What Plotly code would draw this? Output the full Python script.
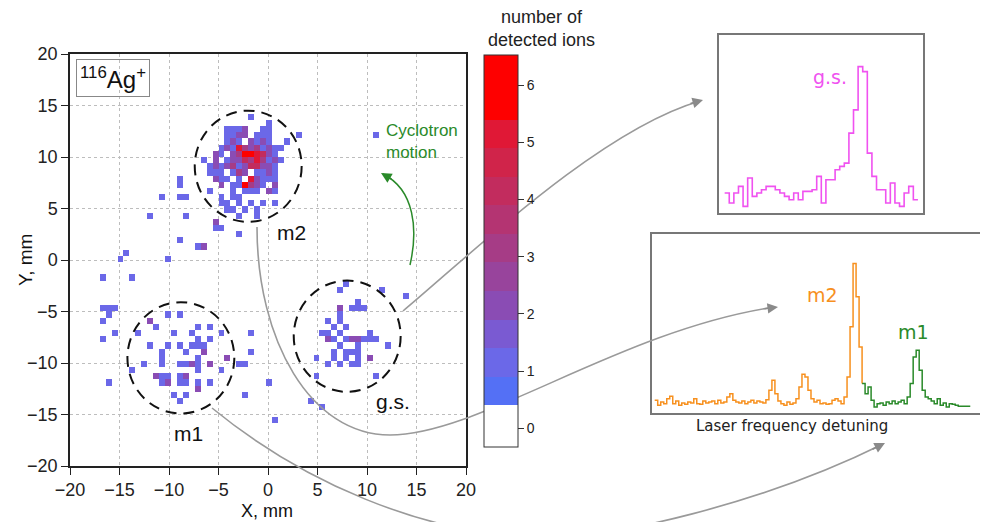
import numpy as np
import plotly.graph_objects as go

# ---------------- data: ion hits on the detector (cell centre x, y in mm, count) ----------------
BIN = 0.6
grid = np.round(-19.7 + BIN * np.arange(67), 2)

m2_x = [-1.7, 0.1,
        -4.1, -3.5, -2.9, -2.3, -0.5, 0.1,
        -4.1, -3.5, -2.9, -2.3, -1.1, -0.5, 0.1, 3.1,
        -4.1, -3.5, -2.9, -1.7, -1.1, -0.5, 0.1, 1.9,
        -4.7, -4.1, -3.5, -2.9, -2.3, -1.7, -1.1, -0.5, 0.1, 0.7, 1.3,
        -5.3, -4.7, -3.5, -2.9, -2.3, -1.7, -1.1, -0.5, 0.1, 0.7,
        -6.5, -5.3, -4.1, -3.5, -2.9, -2.3, -1.7, -1.1, -0.5, 0.1, 0.7, 1.3,
        -5.9, -5.3, -4.7, -4.1, -3.5, -2.9, -2.3, -1.7, -1.1, -0.5, 0.1, 0.7,
        -5.9, -5.3, -4.7, -3.5, -2.9, -2.3, -1.1, -0.5, 0.1, 0.7,
        -5.3, -4.7, -4.1, -2.9, -1.7, -1.1, -0.5, 0.1, 0.7,
        -4.7, -3.5, -2.9, -2.3, -1.7, -1.1, -0.5, 0.7,
        -5.9, -3.5, -2.3, -1.7, -1.1, 0.1, 0.7,
        -4.7, -3.5, -2.9,
        -4.7, -4.1, -2.9, -1.7, -0.5, 0.7,
        -4.1, -3.5, -2.3, -1.1,
        -2.9, -1.1]
m2_y = [13.9, 13.3,
        12.7, 12.7, 12.7, 12.7, 12.7, 12.7,
        12.1, 12.1, 12.1, 12.1, 12.1, 12.1, 12.1, 12.1,
        11.5, 11.5, 11.5, 11.5, 11.5, 11.5, 11.5, 11.5,
        10.9, 10.9, 10.9, 10.9, 10.9, 10.9, 10.9, 10.9, 10.9, 10.9, 10.9,
        10.3, 10.3, 10.3, 10.3, 10.3, 10.3, 10.3, 10.3, 10.3, 10.3,
        9.7, 9.7, 9.7, 9.7, 9.7, 9.7, 9.7, 9.7, 9.7, 9.7, 9.7, 9.7,
        9.1, 9.1, 9.1, 9.1, 9.1, 9.1, 9.1, 9.1, 9.1, 9.1, 9.1, 9.1,
        8.5, 8.5, 8.5, 8.5, 8.5, 8.5, 8.5, 8.5, 8.5, 8.5,
        7.9, 7.9, 7.9, 7.9, 7.9, 7.9, 7.9, 7.9, 7.9,
        7.3, 7.3, 7.3, 7.3, 7.3, 7.3, 7.3, 7.3,
        6.7, 6.7, 6.7, 6.7, 6.7, 6.7, 6.7,
        6.1, 6.1, 6.1,
        5.5, 5.5, 5.5, 5.5, 5.5, 5.5,
        4.9, 4.9, 4.9, 4.9,
        4.3, 4.3]
m2_n = [1, 1,
        1, 1, 1, 2, 1, 1,
        1, 1, 2, 2, 1, 1, 1, 1,
        1, 2, 1, 2, 1, 2, 1, 1,
        1, 2, 1, 5, 3, 2, 3, 1, 2, 1, 1,
        2, 1, 2, 3, 6, 6, 5, 4, 2, 1,
        1, 2, 1, 2, 2, 4, 3, 5, 3, 1, 2, 1,
        1, 2, 1, 2, 3, 1, 2, 4, 4, 2, 2, 1,
        1, 1, 1, 1, 3, 2, 1, 1, 2, 1,
        2, 1, 1, 1, 5, 2, 1, 1, 1,
        2, 1, 1, 6, 3, 2, 1, 2,
        1, 1, 1, 1, 1, 2, 1,
        1, 1, 1,
        1, 1, 1, 1, 1, 1,
        1, 1, 1, 1,
        1, 1]

m1_x = [-16.7, -16.1, -15.5,
        -16.1, -10.1, -8.9,
        -16.7, -11.9,
        -11.3, -7.1, -5.9,
        -15.5, -13.1, -9.5, -7.7, -4.7,
        -16.7, -7.1, -5.9,
        -11.9, -10.1, -8.9, -7.7, -7.1, -6.5,
        -10.7, -8.3, -6.5,
        -10.7, -7.1, -4.1,
        -12.5, -10.7, -8.9, -8.3, -7.7, -7.1, -5.9,
        -13.7, -7.1, -4.7,
        -11.3, -10.7, -10.1, -8.9, -8.3,
        -16.1, -10.7, -10.1, -8.9, -8.3, -7.1, -5.9,
        -7.1,
        -9.5, -8.3,
        -8.9]
m1_y = [-4.7, -4.7, -4.7,
        -5.3, -5.3, -5.3,
        -5.9, -5.9,
        -6.5, -6.5, -6.5,
        -7.1, -7.1, -7.1, -7.1, -7.1,
        -7.7, -7.7, -7.7,
        -8.3, -8.3, -8.3, -8.3, -8.3, -8.3,
        -8.9, -8.9, -8.9,
        -9.5, -9.5, -9.5,
        -10.1, -10.1, -10.1, -10.1, -10.1, -10.1, -10.1,
        -10.7, -10.7, -10.7,
        -11.3, -11.3, -11.3, -11.3, -11.3,
        -11.9, -11.9, -11.9, -11.9, -11.9, -11.9, -11.9,
        -12.5,
        -13.1, -13.1,
        -13.7]
m1_n = [1, 1, 1,
        1, 1, 1,
        1, 2,
        1, 1, 1,
        1, 1, 1, 1, 1,
        1, 1, 1,
        1, 1, 1, 1, 1, 1,
        1, 1, 2,
        1, 1, 2,
        1, 1, 1, 1, 2, 1, 2,
        1, 1, 1,
        2, 1, 1, 1, 2,
        1, 1, 2, 1, 1, 1, 1,
        2,
        1, 1,
        1]

gs_x = [7.9, 7.3, 11.5, 9.1,
        7.3, 8.5, 9.1, 9.7,
        7.3, 6.1, 7.3, 6.7, 7.9,
        5.5, 6.1, 7.3, 10.3,
        6.1, 6.7, 7.9, 8.5, 9.1, 9.7, 10.3, 10.9,
        7.3, 9.1, 12.1,
        6.7, 7.9, 8.5, 9.1,
        4.9, 6.7, 7.9, 9.1, 10.3,
        6.1, 7.3, 8.5, 9.1,
        4.9, 10.9]
gs_y = [-2.3, -2.9, -2.9, -4.1,
        -4.7, -4.7, -4.7, -4.7,
        -5.3, -5.9, -5.9, -6.5, -6.5,
        -7.1, -7.1, -7.1, -7.1,
        -7.7, -7.7, -7.7, -7.7, -7.7, -7.7, -7.7, -7.7,
        -8.3, -8.3, -8.3,
        -8.9, -8.9, -8.9, -8.9,
        -9.5, -9.5, -9.5, -9.5, -9.5,
        -10.1, -10.1, -10.1, -10.1,
        -11.3, -11.3]
gs_n = [1, 1, 1, 1,
        2, 1, 1, 1,
        1, 1, 1, 1, 1,
        1, 1, 1, 1,
        2, 1, 1, 2, 2, 1, 1, 1,
        1, 1, 1,
        1, 1, 1, 1,
        1, 1, 1, 1, 2,
        1, 1, 1, 1,
        1, 1]

halo_x = [-8.9, -8.9, -10.7, -8.9, -8.3, -11.9, -8.3, -5.3, -5.3, -4.7, -2.9, -8.9,
          -7.1, -6.5, -14.3, -14.9, -10.1, -16.7, -13.7, 10.9, -1.7, -1.7, -2.9, -2.3,
          0.1, -2.3, 0.7, 4.3, 5.5, 13.9]
halo_y = [7.9, 7.3, 6.1, 6.1, 6.1, 4.3, 4.3, 3.7, 3.1, 3.1, 2.5, 1.9,
          1.3, 1.3, 0.7, 0.1, 0.1, -1.7, -1.7, 12.1, -7.1, -8.9, -10.1, -10.1,
          -11.9, -13.1, -15.5, -13.7, -14.3, -3.5]
halo_n = [1, 1, 1, 1, 1, 1, 1, 2, 1, 1, 1, 1,
          1, 2, 1, 1, 1, 1, 1, 1, 1, 1, 1, 1,
          1, 1, 1, 1, 1, 1]

axis_ticks = [-20, -15, -10, -5, 0, 5, 10, 15, 20]
cbar_ticks = [0, 1, 2, 3, 4, 5, 6]

# laser scans (counts per detuning step)
gs_scan = [5, 2, 5, 7, 1, 9.5, 4, 5, 6, 7, 7, 6, 5, 4, 3, 5, 3, 5.5, 5.5, 6, 10, 2, 9, 9,
           12, 13, 14, 23, 30, 43, 41.5, 17, 10, 6, 6, 2, 8, 2, 1, 5, 7, 3]
m2_scan = [3, 1.5, 2.5, 2, 3.5, 4.2, 2, 2.8, 1.5, 2.2,
           1.8, 2.5, 2.2, 3.5, 2, 1.8, 2.8, 2.2, 2.5, 2.8,
           2, 3, 2.2, 2.5, 4, 5, 3, 2.5, 2.2, 2.8,
           2, 2.5, 3, 2.2, 2.8, 2.5, 2.2, 3.2, 6, 9,
           5, 2.8, 2, 1.5, 2.5, 1.8, 2.2, 3.5, 7, 10.8,
           10, 6, 3.5, 2.5, 3, 2, 2.2, 1.8, 2, 3,
           3.5, 2.8, 2, 4, 10, 25, 44, 34, 19, 8]
m1_scan = [8, 5, 7, 3, 1, 2, 2.2, 1.5, 2.5, 2,
           2.8, 2, 2.5, 3, 2, 4, 8, 16, 18, 12,
           6, 4, 3.5, 2.8, 2, 3.5, 1.5, 2.2, 1, 2,
           1.8, 1.5, 1.2, 1.2, 1.2, 1.2, 1.2]

# ---------------- build the heat map matrix ----------------
all_x = m2_x + m1_x + gs_x + halo_x
all_y = m2_y + m1_y + gs_y + halo_y
all_n = m2_n + m1_n + gs_n + halo_n
z = np.full((len(grid), len(grid)), np.nan)
for cx, cy, cn in zip(all_x, all_y, all_n):
    i = int(np.argmin(np.abs(grid - cy)))
    j = int(np.argmin(np.abs(grid - cx)))
    z[i, j] = cn

ZMIN, ZMAX = -0.33, 6.53
bands = [(ZMIN, 0.4, "#ffffff"), (0.4, 0.9, "#5470f5"), (0.9, 1.4, "#6b68e8"),
         (1.4, 1.9, "#7a5ad2"), (1.9, 2.4, "#8a4cb4"), (2.4, 2.9, "#98449c"),
         (2.9, 3.4, "#a63c86"), (3.4, 3.9, "#b43472"), (3.9, 4.4, "#c22c5e"),
         (4.4, 4.9, "#d0244a"), (4.9, 5.4, "#e01836"), (5.4, ZMAX, "#fe0000")]
cscale = []
for a, b, c in bands:
    cscale.append([(a - ZMIN) / (ZMAX - ZMIN), c])
    cscale.append([min(1.0, (b - ZMIN) / (ZMAX - ZMIN)), c])

# page is 988x522; the html body has an 8px margin, so the figure is 980x514
OFF = 8
W, H = 988 - OFF, 522 - OFF
FONT = "Liberation Sans, Arial, sans-serif"
VFONT = "DejaVu Sans, Verdana, sans-serif"


def PX(px):
    return (px - OFF) / W


def PY(py):
    return (H - (py - OFF)) / H


def P(px, py):
    return PX(px), PY(py)


def bez(*pts):
    c = [P(*p) for p in pts]
    s = "M %.5f,%.5f" % c[0]
    k = 1
    while k < len(c):
        s += " C %.5f,%.5f %.5f,%.5f %.5f,%.5f" % (c[k] + c[k + 1] + c[k + 2])
        k += 3
    return s


fig = go.Figure()
fig.add_trace(go.Heatmap(
    x=grid, y=grid, z=z, zmin=ZMIN, zmax=ZMAX, colorscale=cscale,
    hoverinfo="skip", xaxis="x", yaxis="y",
    colorbar=dict(x=PX(484), xanchor="left", y=PY(447), yanchor="bottom",
                  len=392, lenmode="pixels", thickness=34, thicknessmode="pixels",
                  xpad=0, ypad=0, outlinewidth=1, outlinecolor="#333333",
                  ticks="outside", ticklen=6, tickcolor="#333333", tickvals=cbar_ticks,
                  tickfont=dict(family=FONT, size=14, color="#222222")),
))

# insets
xg = list(range(len(gs_scan) + 1))
fig.add_trace(go.Scatter(x=xg, y=gs_scan + [gs_scan[-1]], mode="lines", line_shape="hv",
                         line=dict(color="#f052f0", width=1.6), xaxis="x2", yaxis="y2",
                         hoverinfo="skip"))
xo = list(range(len(m2_scan)))
fig.add_trace(go.Scatter(x=xo, y=m2_scan, mode="lines", line_shape="hv",
                         line=dict(color="#f7901e", width=1.5), xaxis="x3", yaxis="y3",
                         hoverinfo="skip"))
start = len(m2_scan) - 1
xgr = list(range(start, start + len(m1_scan)))
fig.add_trace(go.Scatter(x=xgr, y=m1_scan, mode="lines", line_shape="hv",
                         line=dict(color="#2a8a2a", width=1.5), xaxis="x3", yaxis="y3",
                         hoverinfo="skip"))

main_ax = dict(range=[-20, 20], tickvals=axis_ticks, ticks="outside", ticklen=7,
               tickwidth=1.2, tickcolor="#222222", showline=True, linecolor="#222222",
               linewidth=1.5, mirror=True, showgrid=True, gridcolor="#bdbdbd",
               griddash="dot", gridwidth=1, zeroline=False, automargin=False,
               tickfont=dict(family=FONT, size=18, color="#222222"))
inset_ax = dict(showticklabels=False, ticks="", showgrid=False, zeroline=False,
                showline=True, mirror=True, linecolor="#777777", linewidth=1.5,
                automargin=False)

fig.update_layout(
    width=W, height=H, margin=dict(l=0, r=0, t=0, b=0, pad=0, autoexpand=False),
    paper_bgcolor="white", plot_bgcolor="white", showlegend=False,
    xaxis=dict(domain=[PX(70), PX(466)], anchor="y", **main_ax),
    yaxis=dict(domain=[PY(466), PY(54)], anchor="x", **main_ax),
    xaxis2=dict(domain=[PX(719), PX(923)], anchor="y2", range=[-1.23, 43.1], **inset_ax),
    yaxis2=dict(domain=[PY(213), PY(35)], anchor="x2", range=[-1.0, 52.5], **inset_ax),
    xaxis3=dict(domain=[PX(652), PX(982)], anchor="y3", range=[-0.9, 108.9], **inset_ax),
    yaxis3=dict(domain=[PY(413), PY(234)], anchor="x3", range=[-0.8, 52.8], **inset_ax),
)

shapes = []
for cx, cy in [(-2.0, 9.1), (-8.8, -9.5), (8.0, -7.4)]:
    shapes.append(dict(type="circle", xref="x", yref="y", x0=cx - 5.4, x1=cx + 5.4,
                       y0=cy - 5.4, y1=cy + 5.4,
                       line=dict(color="#111111", width=2, dash="11px,7px")))
gray = dict(color="#9a9a9a", width=1.6)
shapes.append(dict(type="path", xref="paper", yref="paper", line=gray,
                   path=bez((403, 311), (470, 255), (600, 130), (700, 101))))
shapes.append(dict(type="path", xref="paper", yref="paper", line=gray,
                   path=bez((257, 227), (257, 340), (310, 435), (390, 435),
                            (480, 435), (620, 330), (775, 307))))
shapes.append(dict(type="path", xref="paper", yref="paper", line=gray,
                   path=bez((212, 408), (300, 480), (420, 535), (545, 538),
                            (610, 538), (760, 505), (883, 444))))
shapes.append(dict(type="path", xref="paper", yref="paper",
                   line=dict(color="#2a8a2a", width=1.5),
                   path=bez((410, 265), (418, 230), (415, 190), (383, 174))))
fig.update_layout(shapes=shapes)

ann = []


def arrow(px, py, ax, ay, color):
    x, y = P(px, py)
    ann.append(dict(xref="paper", yref="paper", x=x, y=y, ax=ax, ay=ay, text="",
                    showarrow=True, arrowhead=2, arrowsize=1.4, arrowwidth=1.5,
                    arrowcolor=color))


arrow(703, 100, -14, 4, "#8a8a8a")
arrow(778, 307, -15, 2, "#8a8a8a")
arrow(885, 443, -14, 7, "#8a8a8a")
arrow(381, 173, 12, 7, "#2a8a2a")


def text(px, py, s, size, color="#111111", family=FONT, xanchor="center", **kw):
    x, y = P(px, py)
    d = dict(xref="paper", yref="paper", x=x, y=y, text=s, showarrow=False,
             xanchor=xanchor, yanchor="middle",
             font=dict(family=family, size=size, color=color))
    d.update(kw)
    ann.append(d)


text(541, 29, "number of<br>detected ions", 18, color="#222222")
text(112.5, 78.5, "<sup>116</sup>Ag<sup>+</sup>", 24, bordercolor="#888888",
     borderwidth=1, borderpad=3)
text(291, 232, "m2", 21)
text(188, 433, "m1", 21)
text(393, 402, "g.s.", 21)
text(384, 142, "Cyclotron<br>motion", 17, color="#2a8a2a", xanchor="left", align="left")
text(267, 511, "X, mm", 18)
text(25, 260, "Y, mm", 19, textangle=-90)
text(830, 77, "g.s.", 19, color="#f052f0", family=VFONT)
text(822, 295, "m2", 19, color="#f7901e", family=VFONT)
text(913, 332, "m1", 19, color="#2a8a2a", family=VFONT)
text(792, 426, "Laser frequency detuning", 15, color="#222222", family=VFONT)
fig.update_layout(annotations=ann)

fig.write_html("out.html")
